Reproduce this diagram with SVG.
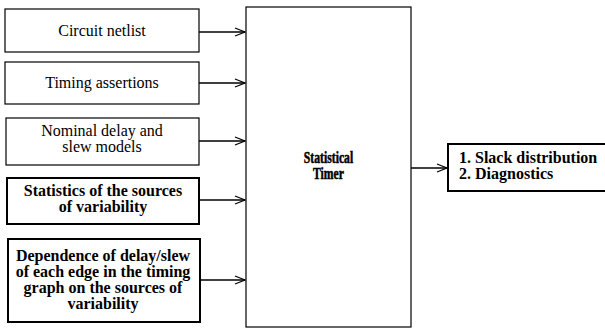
<svg xmlns="http://www.w3.org/2000/svg" width="605" height="329" viewBox="0 0 605 329">
<defs>
<marker id="ah" markerWidth="12" markerHeight="10" refX="11" refY="5" orient="auto" markerUnits="userSpaceOnUse">
<path d="M1,1 L11,5 L1,9" fill="none" stroke="#000" stroke-width="1.3"/>
</marker>
<style>
.box{fill:#fff;stroke:#000;stroke-width:1.2}
.bbox{fill:#fff;stroke:#000;stroke-width:2}
.t{font-family:"Liberation Serif","Times New Roman",serif;font-size:16px;text-anchor:middle;fill:#000}
.b{font-family:"Liberation Serif","Times New Roman",serif;font-size:16px;font-weight:bold;text-anchor:middle;fill:#000}
.n{stroke:#000;stroke-width:0.5}
.o{font-family:"Liberation Serif","Times New Roman",serif;font-size:16px;font-weight:bold;fill:#000}
.c{stroke:#000;stroke-width:1.5;fill:none}
</style>
</defs>
<rect width="605" height="329" fill="#fff"/>
<g id="connectors">
<line class="c" x1="199" y1="32" x2="245" y2="32" marker-end="url(#ah)"/>
<line class="c" x1="199" y1="83" x2="245" y2="83" marker-end="url(#ah)"/>
<line class="c" x1="199" y1="141" x2="245" y2="141" marker-end="url(#ah)"/>
<line class="c" x1="199" y1="200" x2="245" y2="200" marker-end="url(#ah)"/>
<line class="c" x1="200" y1="280" x2="245" y2="280" marker-end="url(#ah)"/>
<line class="c" x1="411" y1="168" x2="447" y2="168" marker-end="url(#ah)"/>
</g>
<g id="n1"><rect class="box" x="5" y="9" width="194" height="43"/><text class="t" x="102" y="36">Circuit netlist</text></g>
<g id="n2"><rect class="box" x="5" y="62" width="194" height="42"/><text class="t" x="102" y="88">Timing assertions</text></g>
<g id="n3"><rect class="box" x="6" y="118" width="193" height="47"/><text class="t" x="102" y="136">Nominal delay and</text><text class="t" x="102" y="152">slew models</text></g>
<g id="n4"><rect class="bbox" x="7" y="178" width="192" height="46"/><text class="b" x="103" y="196">Statistics of the sources</text><text class="b" x="103" y="212">of variability</text></g>
<g id="n5"><rect class="bbox" x="8" y="239" width="192" height="83"/><text class="b" x="103" y="261">Dependence of delay/slew</text><text class="b" x="103" y="277">of each edge in the timing</text><text class="b" x="103" y="293">graph on the sources of</text><text class="b" x="103" y="309">variability</text></g>
<g id="timer"><rect class="box" x="246" y="7" width="165" height="320" stroke-width="1.5"/><text class="b n" transform="translate(328.5,163) scale(0.73,1)">Statistical</text><text class="b n" transform="translate(328.5,179) scale(0.73,1)">Timer</text></g>
<g id="out"><rect class="bbox" x="448" y="144" width="160" height="47" stroke-width="1.5"/><text class="o" x="459" y="163">1. Slack distribution</text><text class="o" x="459" y="179">2. Diagnostics</text></g>
</svg>
